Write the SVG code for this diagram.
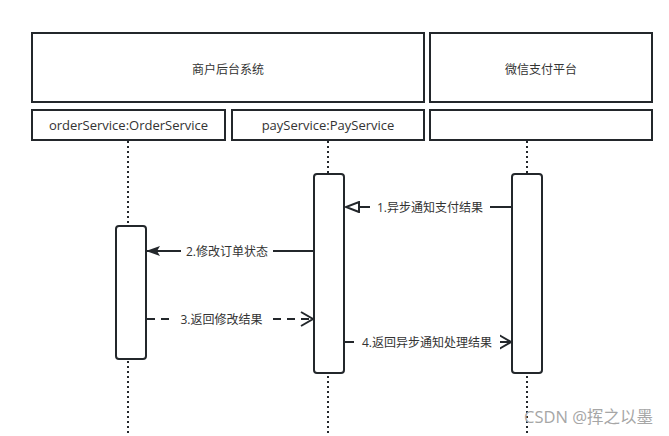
<svg xmlns="http://www.w3.org/2000/svg" width="669" height="436" viewBox="0 0 669 436">
<style>
.box{fill:#fff;stroke:#23272b;stroke-width:2}
.act{fill:#fff;stroke:#23272b;stroke-width:2}
.life{stroke:#23272b;stroke-width:2;stroke-dasharray:2 3;fill:none}
.t{font-family:"Open Sans","Noto Sans CJK SC",sans-serif;font-size:12px;fill:#333;text-anchor:middle;dominant-baseline:central}
.msg{stroke:#23272b;stroke-width:2;fill:none}
.lbl{fill:#fff}
</style>
<defs>
<marker id="filled" markerWidth="14" markerHeight="10" refX="13" refY="5" orient="auto" markerUnits="userSpaceOnUse">
<path d="M0,0 L14,5 L0,10 L3,5 Z" fill="#23272b"/>
</marker>
<marker id="hollow" markerWidth="16" markerHeight="12" refX="14" refY="6" orient="auto" markerUnits="userSpaceOnUse">
<path d="M1,1 L14,6 L1,11 Z" fill="#fff" stroke="#23272b" stroke-width="2"/>
</marker>
<marker id="open" markerWidth="16" markerHeight="16" refX="14" refY="8" orient="auto" markerUnits="userSpaceOnUse">
<path d="M2,1 L14,8 L2,15" fill="none" stroke="#23272b" stroke-width="2"/>
</marker>
</defs>
<rect width="669" height="436" fill="#fff"/>
<g id="lifelines">
<line class="life" x1="128" y1="141" x2="128" y2="436"/>
<line class="life" x1="328" y1="141" x2="328" y2="436"/>
<line class="life" x1="527" y1="141" x2="527" y2="436"/>
</g>
<g id="group-merchant">
<rect class="box" x="32" y="33" width="392" height="69"/>
<text class="t" x="228" y="69">商户后台系统</text>
</g>
<g id="group-wechat">
<rect class="box" x="430" y="33" width="222" height="69"/>
<text class="t" x="541" y="69">微信支付平台</text>
</g>
<g id="orderService">
<rect class="box" x="32" y="110" width="193" height="30"/>
<text class="t" x="128.5" y="125" style="font-size:13px">orderService:OrderService</text>
<rect class="act" x="116" y="226" width="30" height="133" rx="3"/>
</g>
<g id="payService">
<rect class="box" x="232" y="110" width="192" height="30"/>
<text class="t" x="328" y="125" style="font-size:13px">payService:PayService</text>
<rect class="act" x="314" y="174" width="30" height="199" rx="3"/>
</g>
<g id="wechatPay">
<rect class="box" x="430" y="110" width="222" height="30"/>
<rect class="act" x="512" y="174" width="30" height="199" rx="3"/>
</g>
<g id="connectors">
<line class="msg" x1="511" y1="207" x2="346" y2="207" marker-end="url(#hollow)"/>
<rect class="lbl" x="370" y="199" width="120" height="16"/>
<text class="t" x="430" y="207">1.异步通知支付结果</text>
<line class="msg" x1="313" y1="251" x2="147" y2="251" marker-end="url(#filled)"/>
<rect class="lbl" x="181" y="243" width="92" height="16"/>
<text class="t" x="227" y="251">2.修改订单状态</text>
<line class="msg" x1="147" y1="319" x2="313" y2="319" stroke-dasharray="8 6" marker-end="url(#open)"/>
<rect class="lbl" x="174" y="311" width="95" height="16"/>
<text class="t" x="221.5" y="319">3.返回修改结果</text>
<line class="msg" x1="345" y1="342" x2="511" y2="342" marker-end="url(#open)"/>
<rect class="lbl" x="354" y="334" width="146" height="16"/>
<text class="t" x="427" y="342">4.返回异步通知处理结果</text>
</g>
<text x="653" y="416" style="font-family:'Open Sans','Noto Sans CJK SC',sans-serif;font-size:16.5px;fill:#a6a6a6;text-anchor:end;dominant-baseline:central">CSDN @挥之以墨</text>
</svg>
